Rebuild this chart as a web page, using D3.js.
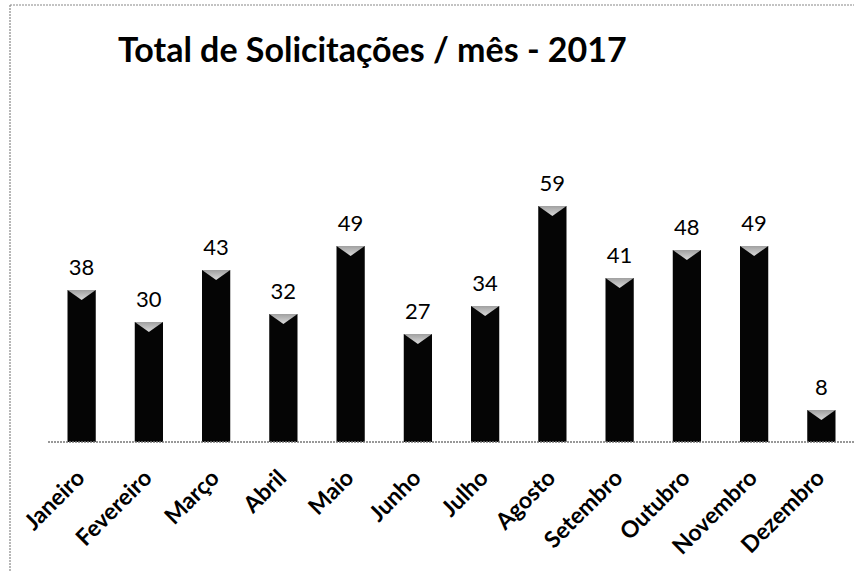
<!DOCTYPE html>
<html>
<head>
<meta charset="utf-8">
<script src="https://cdn.jsdelivr.net/npm/d3@7"></script>
<style>
  body { margin: 0; background: #fff; }
  svg { display: block; }
</style>
</head>
<body>
<svg id="chart"></svg>
<script>
const months = ["Janeiro", "Fevereiro", "Março", "Abril", "Maio", "Junho",
  "Julho", "Agosto", "Setembro", "Outubro", "Novembro", "Dezembro"];
const totals = [38, 30, 43, 32, 49, 27, 34, 59, 41, 48, 49, 8];
const title = "Total de Solicitações / mês - 2017";

const W = 854, H = 572;
const baseY = 442;

const svg = d3.select("#chart")
  .attr("width", W)
  .attr("height", H);

const defs = svg.append("defs");
const grad = defs.append("linearGradient")
  .attr("id", "cap")
  .attr("x1", 0).attr("y1", 0).attr("x2", 0).attr("y2", 1);
grad.append("stop").attr("offset", "0%").attr("stop-color", "#a0a0a0");
grad.append("stop").attr("offset", "100%").attr("stop-color", "#dadada");

// frame (dotted gray)
svg.append("line")
  .attr("x1", 10).attr("x2", 10).attr("y1", 5).attr("y2", H)
  .attr("stroke", "#888").attr("stroke-width", 1.2)
  .attr("stroke-dasharray", "2,1");
svg.append("line")
  .attr("x1", 10).attr("x2", W).attr("y1", 5).attr("y2", 5)
  .attr("stroke", "#888").attr("stroke-width", 1.2)
  .attr("stroke-dasharray", "2,1");

const x = d3.scaleBand()
  .domain(months)
  .range([48, 855])
  .paddingInner(0.58)
  .paddingOuter(0.29);

const y = d3.scaleLinear()
  .domain([0, 70])
  .range([baseY, baseY - 280]);

// title
svg.append("text")
  .attr("x", 118)
  .attr("y", 62)
  .attr("font-family", "Lato, 'Open Sans', sans-serif")
  .attr("font-weight", "bold")
  .attr("font-size", 34)
  .attr("fill", "#000")
  .text(title);

// bars
const bars = svg.append("g");
bars.selectAll("rect")
  .data(totals)
  .join("rect")
  .attr("x", (d, i) => x(months[i]))
  .attr("y", d => y(d))
  .attr("width", x.bandwidth())
  .attr("height", d => y(0) - y(d))
  .attr("fill", "#050505");

// gray top caps
bars.selectAll("path.cap")
  .data(totals)
  .join("path")
  .attr("class", "cap")
  .attr("d", (d, i) => {
    const x0 = x(months[i]), x1 = x0 + x.bandwidth(), top = y(d);
    const cx = (x0 + x1) / 2;
    return `M${x0},${top}L${x1},${top}L${cx},${top + 10}Z`;
  })
  .attr("fill", "url(#cap)");

// baseline
svg.append("line")
  .attr("x1", 48).attr("x2", W)
  .attr("y1", baseY).attr("y2", baseY)
  .attr("stroke", "#777").attr("stroke-width", 1.5)
  .attr("stroke-dasharray", "2,1");

// value labels
svg.append("g").selectAll("text")
  .data(totals)
  .join("text")
  .attr("x", (d, i) => x(months[i]) + x.bandwidth() / 2)
  .attr("y", d => y(d) - 15)
  .attr("text-anchor", "middle")
  .attr("font-family", "Lato, 'Open Sans', sans-serif")
  .attr("font-size", 22)
  .attr("fill", "#000")
  .text(d => d);

// category labels
svg.append("g").selectAll("text")
  .data(months)
  .join("text")
  .attr("transform", d => {
    const cx = x(d) + x.bandwidth() / 2 - 7;
    return `translate(${cx},${baseY + 26}) rotate(-45)`;
  })
  .attr("text-anchor", "end")
  .attr("dy", "0.7em")
  .attr("font-family", "Lato, 'Open Sans', sans-serif")
  .attr("font-weight", "bold")
  .attr("font-size", 23)
  .attr("fill", "#000")
  .text(d => d);
</script>
</body>
</html>
